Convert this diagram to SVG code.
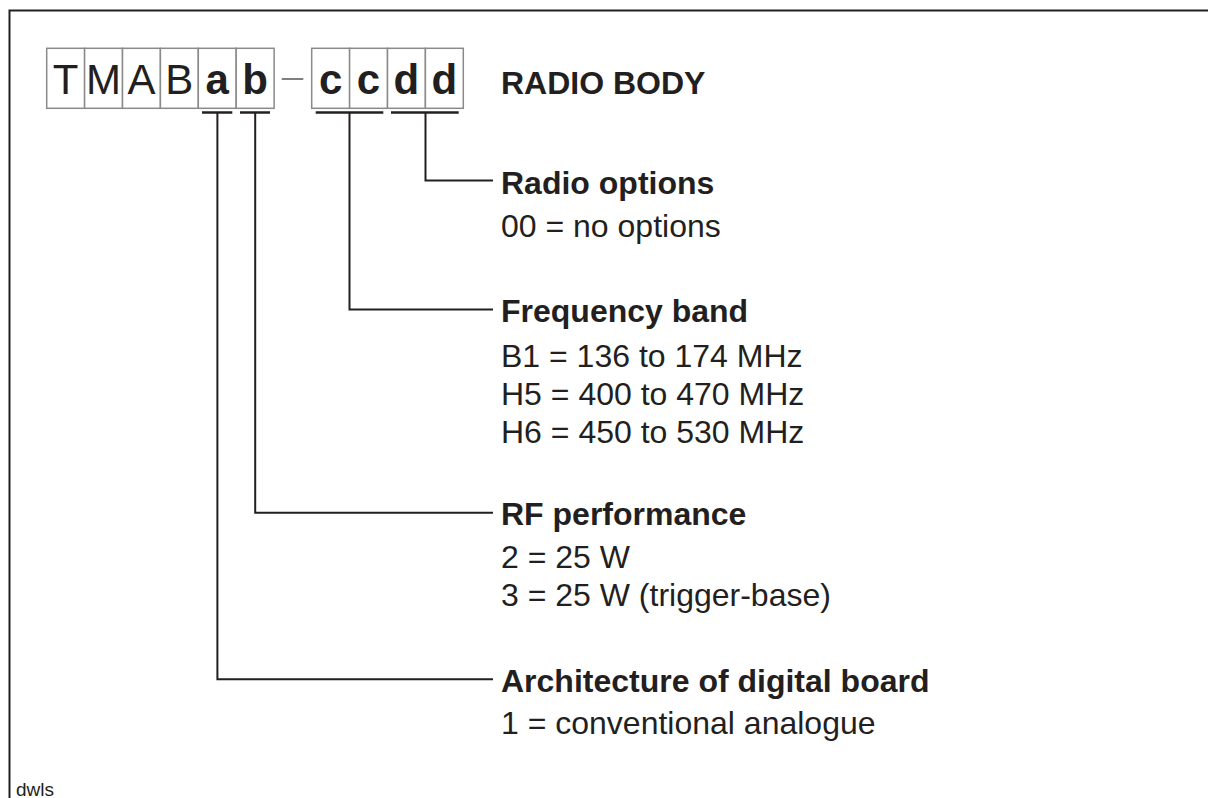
<svg xmlns="http://www.w3.org/2000/svg" width="1208" height="798" viewBox="0 0 1208 798">
<style>
.cell{fill:#fff;stroke:#8a8a8a;stroke-width:1.5}
.reg{font-family:"Liberation Sans",Arial,sans-serif;font-size:32px;fill:#231f20}
.bold{font-family:"Liberation Sans",Arial,sans-serif;font-size:32px;font-weight:bold;fill:#231f20}
.ch{font-family:"Liberation Sans",Arial,sans-serif;font-size:42px;fill:#231f20;text-anchor:middle}
.chb{font-weight:bold}
.ln{fill:none;stroke:#231f20;stroke-width:2}
.ul{fill:none;stroke:#231f20;stroke-width:2.5}
</style>
<rect width="1208" height="798" fill="#fff"/>
<path d="M9.5 798 V10.5 H1208" fill="none" stroke="#231f20" stroke-width="2"/>
<g id="code">
<g id="cells1">
<rect class="cell" x="46.7" y="48.3" width="37.9" height="60"/>
<rect class="cell" x="84.6" y="48.3" width="37.9" height="60"/>
<rect class="cell" x="122.5" y="48.3" width="37.9" height="60"/>
<rect class="cell" x="160.4" y="48.3" width="37.9" height="60"/>
<rect class="cell" x="198.3" y="48.3" width="37.9" height="60"/>
<rect class="cell" x="236.2" y="48.3" width="37.9" height="60"/>
</g>
<line x1="281.7" y1="79" x2="303.3" y2="79" stroke="#555" stroke-width="1.5"/>
<g id="cells2">
<rect class="cell" x="311.7" y="48.3" width="37.9" height="60"/>
<rect class="cell" x="349.6" y="48.3" width="37.9" height="60"/>
<rect class="cell" x="387.5" y="48.3" width="37.9" height="60"/>
<rect class="cell" x="425.4" y="48.3" width="37.9" height="60"/>
</g>
<text class="ch" x="65.6" y="93.5">T</text>
<text class="ch" x="103.5" y="93.5">M</text>
<text class="ch" x="141.4" y="93.5">A</text>
<text class="ch" x="179.3" y="93.5">B</text>
<text class="ch chb" x="217.2" y="93.5">a</text>
<text class="ch chb" x="255.1" y="93.5">b</text>
<text class="ch chb" x="330.6" y="93.5">c</text>
<text class="ch chb" x="368.5" y="93.5">c</text>
<text class="ch chb" x="406.4" y="93.5">d</text>
<text class="ch chb" x="444.3" y="93.5">d</text>
<text class="bold" x="501" y="94">RADIO BODY</text>
</g>
<g id="connectors">
<line class="ul" x1="202" y1="112.5" x2="232.3" y2="112.5"/>
<line class="ul" x1="240" y1="112.5" x2="270" y2="112.5"/>
<line class="ul" x1="315.7" y1="112.5" x2="383.3" y2="112.5"/>
<line class="ul" x1="391" y1="112.5" x2="458.7" y2="112.5"/>
<path class="ln" d="M425.5 112.5 V180.5 H493"/>
<path class="ln" d="M349.5 112.5 V309.5 H493"/>
<path class="ln" d="M255.2 112.5 V512.7 H493"/>
<path class="ln" d="M217.4 112.5 V679.3 H493"/>
</g>
<g id="radio-options">
<text class="bold" x="501" y="194">Radio options</text>
<text class="reg" x="501" y="237">00 = no options</text>
</g>
<g id="frequency-band">
<text class="bold" x="501" y="322">Frequency band</text>
<text class="reg" x="501" y="367">B1 = 136 to 174 MHz</text>
<text class="reg" x="501" y="405">H5 = 400 to 470 MHz</text>
<text class="reg" x="501" y="443">H6 = 450 to 530 MHz</text>
</g>
<g id="rf-performance">
<text class="bold" x="501" y="525">RF performance</text>
<text class="reg" x="501" y="568">2 = 25 W</text>
<text class="reg" x="501" y="606">3 = 25 W (trigger-base)</text>
</g>
<g id="architecture">
<text class="bold" x="501" y="692">Architecture of digital board</text>
<text class="reg" x="501" y="734">1 = conventional analogue</text>
</g>
<text x="16" y="796" font-family="Liberation Sans,Arial,sans-serif" font-size="19" fill="#231f20">dwls</text>
</svg>
